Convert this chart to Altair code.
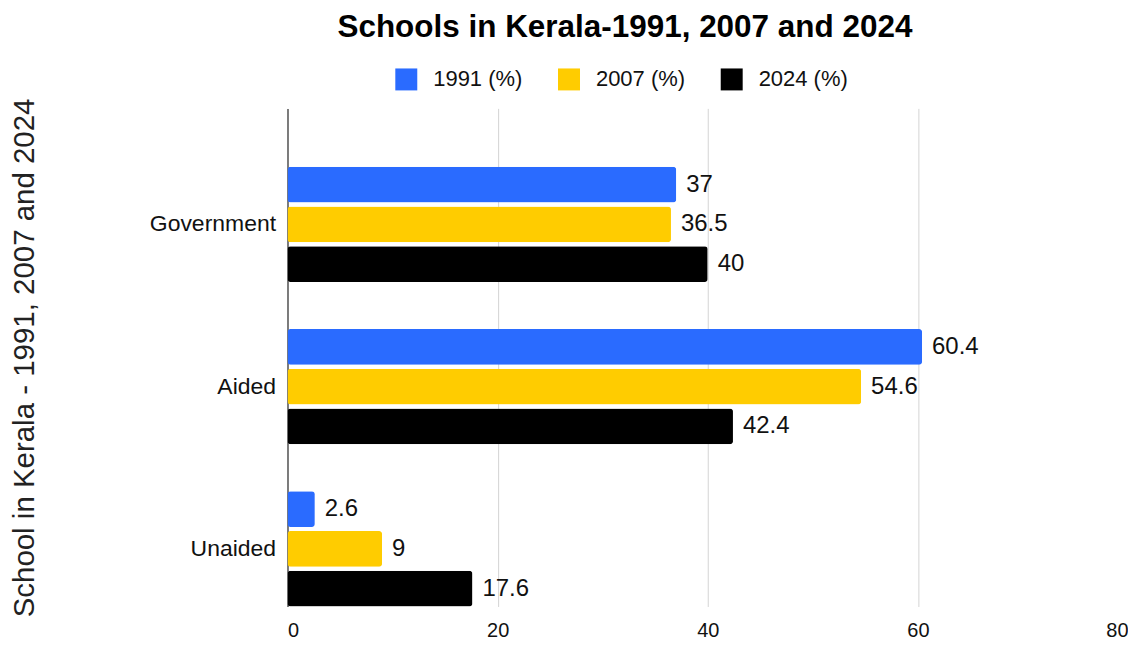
import altair as alt
import pandas as pd

categories = ["Government", "Aided", "Unaided"]
series = ["1991 (%)", "2007 (%)", "2024 (%)"]
v1991 = [37, 60.4, 2.6]
v2007 = [36.5, 54.6, 9]
v2024 = [40, 42.4, 17.6]
colors = ["#2A6BFF", "#FFCC00", "#000000"]
x_ticks = [0, 20, 40, 60, 80]

rows = []
for i, c in enumerate(categories):
    for s, vals in zip(series, [v1991, v2007, v2024]):
        rows.append({"type": c, "series": s, "value": vals[i]})
df = pd.DataFrame(rows)

FONT = "Liberation Sans"

y_enc = alt.Y(
    "type:N",
    sort=categories,
    scale=alt.Scale(paddingInner=0.29, paddingOuter=0.18, align=1.0),
    axis=alt.Axis(
        title="School in Kerala - 1991, 2007 and 2024",
        titleFontSize=29.5,
        titleFontWeight="normal",
        titleFont=FONT,
        titleColor="#222222",
        titleX=-263,
        titleBaseline="middle",
        labelFontSize=23,
        labelFont=FONT,
        labelColor="#111111",
        labelPadding=12,
        ticks=False,
        domainColor="#333333",
        domainWidth=1.2,
        grid=False,
    ),
)
yoff = alt.YOffset("series:N", sort=series, scale=alt.Scale(paddingInner=0.1, paddingOuter=0))
x_enc = alt.X(
    "value:Q",
    scale=alt.Scale(domain=[0, 80], nice=False),
    axis=alt.Axis(
        title=None,
        values=x_ticks,
        grid=True,
        gridColor="#d4d4d4",
        domain=False,
        ticks=False,
        labelFontSize=20,
        labelFont=FONT,
        labelColor="#111111",
        labelPadding=14,
        labelFlush=True,
    ),
)

base = alt.Chart(df)

bars = base.mark_bar(cornerRadius=3).encode(
    y=y_enc,
    yOffset=yoff,
    x=x_enc,
    color=alt.Color(
        "series:N",
        sort=series,
        scale=alt.Scale(domain=series, range=colors),
        legend=alt.Legend(
            title=None,
            orient="none",
            direction="horizontal",
            legendX=108,
            legendY=-40,
            symbolType="square",
            symbolSize=484,
            symbolStrokeWidth=0,
            labelFontSize=22,
            labelFont=FONT,
            labelColor="#111111",
            labelOffset=16,
            columnPadding=35,
        ),
    ),
)

labels = base.mark_text(align="left", baseline="middle", dx=10, fontSize=24, font=FONT, color="#111111").encode(
    y=alt.Y("type:N", sort=categories),
    yOffset=alt.YOffset("series:N", sort=series),
    x=alt.X("value:Q"),
    text=alt.Text("value:Q"),
)

chart = (
    alt.layer(bars, labels)
    .properties(
        width=842,
        height=499,
        padding={"left": 280, "top": 100, "right": 0, "bottom": 33},
        autosize=alt.AutoSizeParams(type="none"),
        title=alt.TitleParams(
            "Schools in Kerala-1991, 2007 and 2024",
            fontSize=31.5,
            font=FONT,
            fontWeight="bold",
            color="#000000",
            anchor="middle",
            dx=-83,
            dy=-21,
        ),
    )
    .configure_view(stroke=None)
)

chart.save("out.html", embed_options={"renderer": "svg", "actions": False})
